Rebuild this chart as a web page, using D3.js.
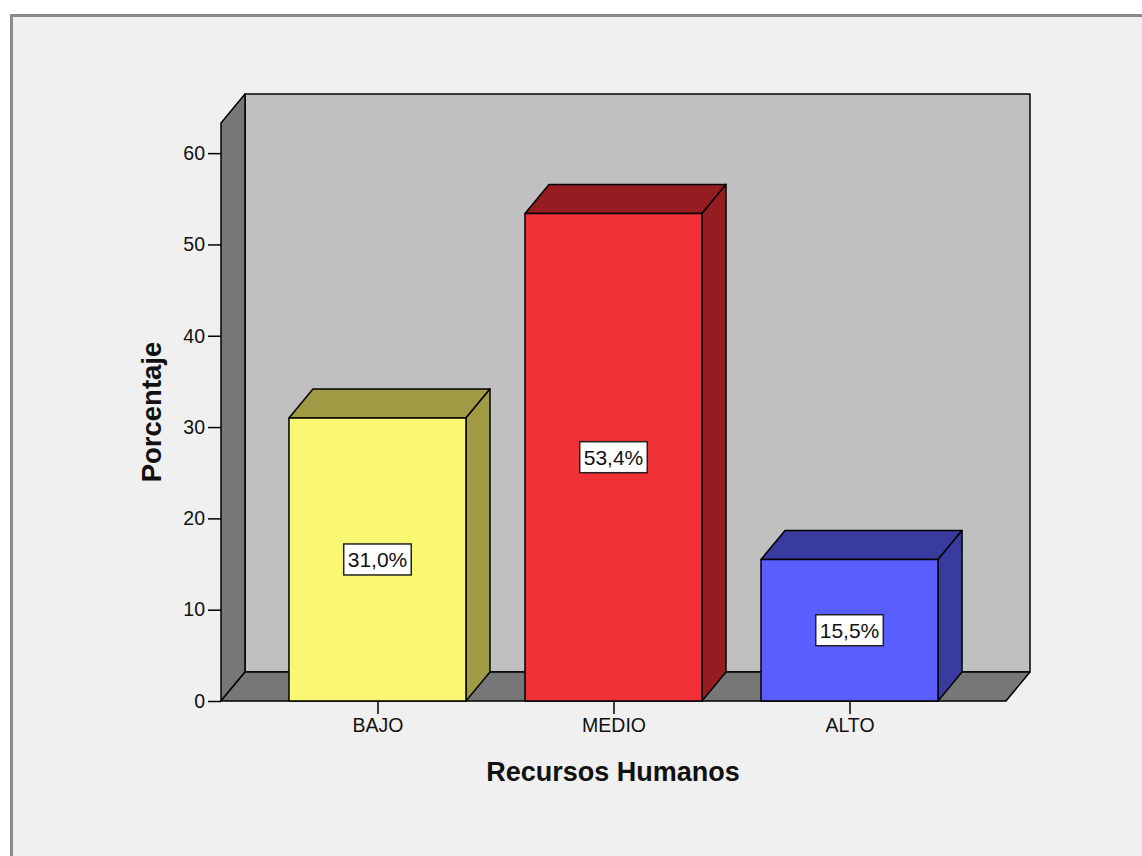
<!DOCTYPE html>
<html>
<head>
<meta charset="utf-8">
<script src="https://cdn.jsdelivr.net/npm/d3@7"></script>
<style>
  html, body { margin: 0; padding: 0; background: #ffffff; }
  svg { display: block; }
  text { font-family: "Liberation Sans", Arial, sans-serif; fill: #111; }
</style>
</head>
<body>
<script>
// Frequency table for "Recursos Humanos"
const categories = ["BAJO", "MEDIO", "ALTO"];
const percentages = [31.0, 53.4, 15.5];
const valueLabels = ["31,0%", "53,4%", "15,5%"];
const yTicks = [0, 10, 20, 30, 40, 50, 60];
const frontColors = ["#FAF772", "#F03238", "#5A5EFE"];
const shadeColors = ["#A09A45", "#951D22", "#393C9E"];

const W = 1142, H = 856;
const plotLeft = 221, plotRight = 1006, plotBottom = 701, plotTop = 123;
const depthX = 24, depthY = 29;   // oblique depth of the 3D box
const yMax = 63.3;

const svg = d3.select("body").append("svg")
  .attr("width", W).attr("height", H);

// page background and outer frame
svg.append("rect").attr("width", W).attr("height", H).attr("fill", "#ffffff");
svg.append("rect")
  .attr("x", 11.5).attr("y", 15.5).attr("width", 1200).attr("height", 900)
  .attr("fill", "#F0F0F0").attr("stroke", "#8a8a8a").attr("stroke-width", 3);

const y = d3.scaleLinear().domain([0, yMax]).range([plotBottom, plotTop]);
const x = d3.scalePoint().domain(categories).range([plotLeft, plotRight]).padding(0.663);
const barW = x.step() * 0.75;

const poly = pts => pts.map(p => p.join(",")).join(" ");
function applyEdge(sel) {
  return sel.attr("stroke", "#000").attr("stroke-width", 1.5).attr("stroke-linejoin", "round");
}

const y0 = y(0), yTop = y(yMax);

// back wall
applyEdge(svg.append("polygon")
  .attr("points", poly([[plotLeft + depthX, yTop - depthY], [plotRight + depthX, yTop - depthY],
                        [plotRight + depthX, y0 - depthY], [plotLeft + depthX, y0 - depthY]]))
  .attr("fill", "#C0C0C0"));
// side wall
applyEdge(svg.append("polygon")
  .attr("points", poly([[plotLeft, y0], [plotLeft, yTop], [plotLeft + depthX, yTop - depthY], [plotLeft + depthX, y0 - depthY]]))
  .attr("fill", "#777777"));
// floor
applyEdge(svg.append("polygon")
  .attr("points", poly([[plotLeft, y0], [plotRight, y0], [plotRight + depthX, y0 - depthY], [plotLeft + depthX, y0 - depthY]]))
  .attr("fill", "#777777"));

// bars
const bars = svg.append("g").selectAll("g").data(categories).join("g");
bars.each(function (c, i) {
  const g = d3.select(this);
  const x0 = x(c) - barW / 2, x1 = x(c) + barW / 2;
  const yt = y(percentages[i]);
  applyEdge(g.append("polygon")
    .attr("points", poly([[x0, yt], [x1, yt], [x1 + depthX, yt - depthY], [x0 + depthX, yt - depthY]]))
    .attr("fill", shadeColors[i]));
  applyEdge(g.append("polygon")
    .attr("points", poly([[x1, y0], [x1, yt], [x1 + depthX, yt - depthY], [x1 + depthX, y0 - depthY]]))
    .attr("fill", shadeColors[i]));
  applyEdge(g.append("rect")
    .attr("x", x0).attr("y", yt).attr("width", barW).attr("height", y0 - yt)
    .attr("fill", frontColors[i]));

  // value label box at mid-height
  const cy = y(percentages[i] / 2);
  const t = g.append("text")
    .attr("x", x(c)).attr("y", cy)
    .attr("text-anchor", "middle").attr("dominant-baseline", "central")
    .attr("font-size", 21).text(valueLabels[i]);
  const bb = t.node().getBBox();
  g.insert("rect", "text")
    .attr("x", bb.x - 4).attr("y", cy - 15.5)
    .attr("width", bb.width + 8).attr("height", 31)
    .attr("fill", "#ffffff").attr("stroke", "#222").attr("stroke-width", 1.5);
});

// y axis
const yAxis = svg.append("g").attr("transform", `translate(${plotLeft},0)`)
  .call(d3.axisLeft(y).tickValues(yTicks).tickSize(13).tickPadding(3));
yAxis.select(".domain").remove();
yAxis.selectAll("line").attr("stroke", "#000").attr("stroke-width", 1.5);
yAxis.selectAll("text").attr("font-size", 19.5).attr("font-family", "Liberation Sans, Arial, sans-serif").attr("fill", "#111");

// x axis
const xAxis = svg.append("g").attr("transform", `translate(0,${plotBottom})`)
  .call(d3.axisBottom(x).tickSize(13).tickPadding(4));
xAxis.select(".domain").remove();
xAxis.selectAll("line").attr("stroke", "#000").attr("stroke-width", 1.5);
xAxis.selectAll("text").attr("font-size", 19.5).attr("font-family", "Liberation Sans, Arial, sans-serif").attr("fill", "#111");

// axis titles
svg.append("text")
  .attr("x", 613).attr("y", 781)
  .attr("text-anchor", "middle").attr("font-weight", "bold").attr("font-size", 27)
  .text("Recursos Humanos");
svg.append("text")
  .attr("transform", `translate(161,412) rotate(-90)`)
  .attr("text-anchor", "middle").attr("font-weight", "bold").attr("font-size", 27.5)
  .text("Porcentaje");
</script>
</body>
</html>
